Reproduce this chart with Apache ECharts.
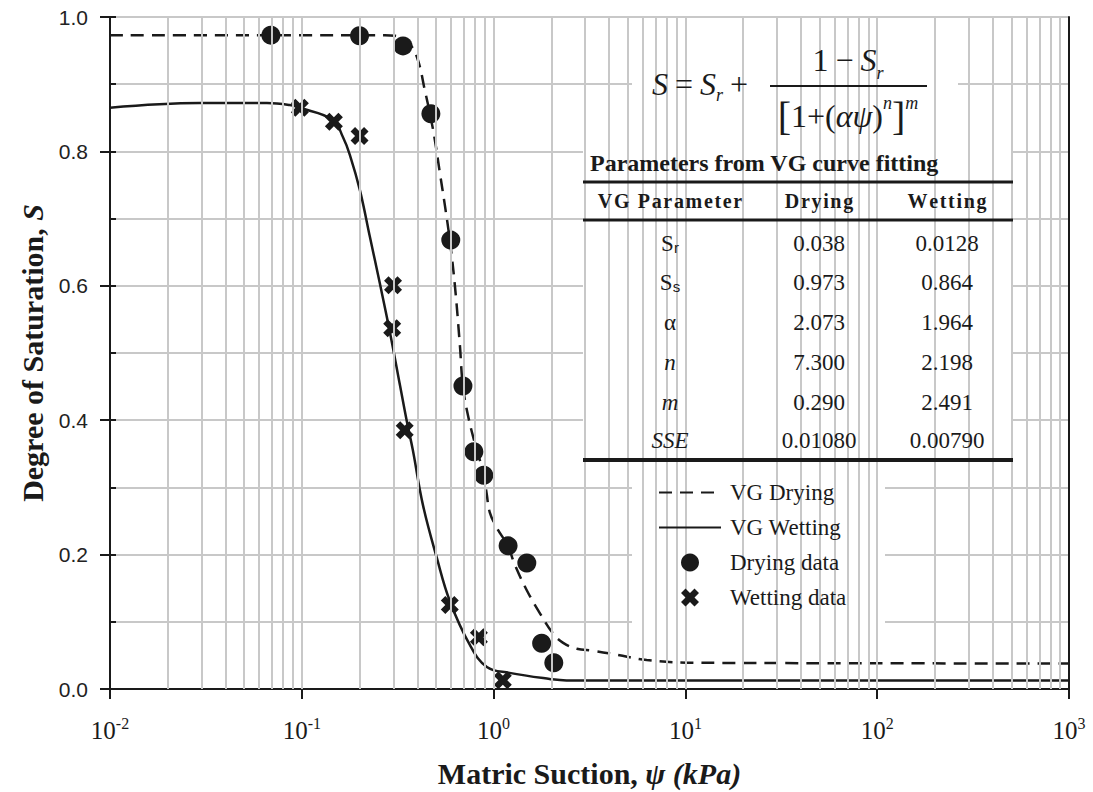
<!DOCTYPE html>
<html>
<head>
<meta charset="utf-8">
<script src="https://cdn.jsdelivr.net/npm/echarts@6/dist/echarts.min.js"></script>
<style>
  html, body { margin: 0; padding: 0; background: #fff; }
  #chart { width: 1093px; height: 792px; }
</style>
</head>
<body>
<div id="chart"></div>
<script>
// measured points
var dryPsi = [0.069, 0.2, 0.337, 0.471, 0.598, 0.692, 0.789, 0.889, 1.19, 1.49, 1.78, 2.06];
var dryS   = [0.973, 0.972, 0.957, 0.856, 0.668, 0.451, 0.353, 0.318, 0.213, 0.1875, 0.068, 0.039];
var wetPsi = [0.0977, 0.147, 0.2, 0.299, 0.296, 0.344, 0.591, 0.838, 1.117];
var wetS   = [0.865, 0.844, 0.823, 0.601, 0.537, 0.385, 0.125, 0.077, 0.013];

// fitted curves
var dryCurvePsi = [0.01, 0.271, 0.306, 0.332, 0.366, 0.403, 0.438, 0.465, 0.494, 0.524, 0.557, 0.591, 0.628, 0.667, 0.691, 0.734, 0.798, 0.847, 0.889, 0.922, 0.955, 1.039, 1.186, 1.29, 1.489, 1.741, 2.035, 2.294, 2.715, 3.288, 4.385, 6.286, 11.87, 1000];
var dryCurveS   = [0.973, 0.973, 0.972, 0.969, 0.960, 0.936, 0.891, 0.857, 0.817, 0.769, 0.720, 0.668, 0.601, 0.512, 0.452, 0.408, 0.366, 0.341, 0.320, 0.289, 0.263, 0.240, 0.213, 0.185, 0.147, 0.113, 0.083, 0.069, 0.060, 0.057, 0.051, 0.043, 0.039, 0.038];
var wetCurvePsi = [0.01, 0.0294, 0.0658, 0.0867, 0.0977, 0.145, 0.164, 0.178, 0.201, 0.226, 0.255, 0.288, 0.325, 0.353, 0.379, 0.428, 0.506, 0.591, 0.752, 0.922, 1.21, 1.96, 2.4, 1000];
var wetCurveS   = [0.865, 0.872, 0.872, 0.869, 0.865, 0.847, 0.821, 0.795, 0.742, 0.674, 0.604, 0.531, 0.452, 0.398, 0.356, 0.274, 0.195, 0.131, 0.0655, 0.0327, 0.024, 0.015, 0.0128, 0.0128];

var decades = [-2, -1, 0, 1, 2];

var paramNames = ['Sr', 'Ss', 'alpha', 'n', 'm', 'SSE'];
var dryParams = ['0.038', '0.973', '2.073', '7.300', '0.290', '0.01080'];
var wetParams = ['0.0128', '0.864', '1.964', '2.198', '2.491', '0.00790'];

function pairs(xs, ys) { return xs.map(function(x, i) { return [x, ys[i]]; }); }

var ink = '#1a1a1a';
var gridGray = '#c8c8c8';
var serif = 'Liberation Serif';
var sans = 'Liberation Sans';

// vertical grid at 1..9 x 10^k
var vLines = [];
decades.forEach(function(e) {
  for (var k = 1; k <= 9; k++) {
    if (e === -2 && k === 1) continue;
    vLines.push({ xAxis: k * Math.pow(10, e) });
  }
});

var crossPath = 'path://M2.5,0 L5,2.5 L7.5,0 L10,2.5 L7.5,5 L10,7.5 L7.5,10 L5,7.5 L2.5,10 L0,7.5 L2.5,5 L0,2.5 Z';

var chart = echarts.init(document.getElementById('chart'), null, { renderer: 'svg' });

function txt(x, y, text, opts) {
  var s = { x: x, y: y, text: text, fill: ink, textAlign: 'center', textVerticalAlign: 'middle',
            fontFamily: serif, fontSize: 23 };
  for (var k in opts) s[k] = opts[k];
  return { type: 'text', z: 11, style: s };
}

var g = [];
// white panels over the grid
g.push({ type: 'rect', z: 5, shape: { x: 632, y: 40, width: 326, height: 103 }, style: { fill: '#fff' } });
g.push({ type: 'rect', z: 5, shape: { x: 583, y: 143, width: 430, height: 320 }, style: { fill: '#fff' } });
g.push({ type: 'rect', z: 5, shape: { x: 632, y: 462, width: 253, height: 166 }, style: { fill: '#fff' } });

// formula
var fRich = {
  i: { fontFamily: serif, fontStyle: 'italic', fontSize: 32, lineHeight: 40 },
  n: { fontFamily: serif, fontSize: 32, lineHeight: 40, padding: [0, 7, 0, 7] },
  n0: { fontFamily: serif, fontSize: 32, lineHeight: 44 },
  b: { fontFamily: serif, fontSize: 40, lineHeight: 44 },
  sub: { fontFamily: serif, fontStyle: 'italic', fontSize: 18, verticalAlign: 'bottom', lineHeight: 18 },
  sup: { fontFamily: serif, fontStyle: 'italic', fontSize: 18, verticalAlign: 'top', lineHeight: 18 }
};
g.push(txt(652, 84, '{i|S}{n|=}{i|S}{sub|r}{n|+}', { textAlign: 'left', rich: fRich }));
g.push(txt(848, 60, '{n0|1}{n|\u2212}{i|S}{sub|r}', { rich: fRich }));
g.push({ type: 'line', z: 11, shape: { x1: 770, y1: 86, x2: 927, y2: 86 }, style: { stroke: ink, lineWidth: 2 } });
g.push(txt(848, 116, '{b|[}{n0|1+(}{i|\u03b1\u03c8}{n0|)}{sup|n}{b|]}{sup|m}', { rich: fRich }));

// table
function spaced(s) { return s.split('').join('\u200a'); }
g.push(txt(590, 163, 'Parameters from VG curve fitting', { textAlign: 'left', fontWeight: 'bold', fontSize: 24 }));
g.push({ type: 'line', z: 11, shape: { x1: 583, y1: 182, x2: 1013, y2: 182 }, style: { stroke: ink, lineWidth: 3 } });
g.push(txt(670, 201, spaced('VG Parameter'), { fontWeight: 'bold', fontSize: 20 }));
g.push(txt(819, 201, spaced('Drying'), { fontWeight: 'bold', fontSize: 20 }));
g.push(txt(947, 201, spaced('Wetting'), { fontWeight: 'bold', fontSize: 20 }));
g.push({ type: 'line', z: 11, shape: { x1: 583, y1: 220, x2: 1013, y2: 220 }, style: { stroke: ink, lineWidth: 3 } });
var rowY = [243, 282, 322, 362, 402, 440];
var nameRich = {
  s: { fontFamily: serif, fontSize: 23 },
  sub: { fontFamily: sans, fontSize: 15, verticalAlign: 'bottom', lineHeight: 16 },
  i: { fontFamily: serif, fontStyle: 'italic', fontSize: 23 }
};
var nameText = {
  Sr: '{s|S}{sub|r}', Ss: '{s|S}{sub|s}', alpha: '{s|\u03b1}', n: '{i|n}', m: '{i|m}', SSE: '{i|SSE}'
};
paramNames.forEach(function(p, i) {
  g.push(txt(670, rowY[i], nameText[p], { rich: nameRich }));
  g.push(txt(819, rowY[i], dryParams[i], {}));
  g.push(txt(947, rowY[i], wetParams[i], {}));
});
g.push({ type: 'line', z: 11, shape: { x1: 583, y1: 460, x2: 1013, y2: 460 }, style: { stroke: ink, lineWidth: 4 } });

var axisLine = { show: true, lineStyle: { color: ink, width: 2 } };
var titleRich = {
  b: { fontFamily: serif, fontWeight: 'bold', fontSize: 30, color: ink },
  bi: { fontFamily: serif, fontWeight: 'bold', fontStyle: 'italic', fontSize: 30, color: ink }
};

chart.setOption({
  animation: false,
  backgroundColor: '#fff',
  grid: { left: 110, right: 24, top: 17, bottom: 103, outerBoundsMode: 'none', containLabel: false },
  legend: {
    orient: 'vertical',
    left: 653, top: 476,
    itemWidth: 62, itemHeight: 18, itemGap: 12,
    z: 10,
    textStyle: { fontFamily: serif, fontSize: 23, color: ink, padding: [0, 0, 0, 4] },
    data: [
      { name: 'VG Drying', itemStyle: { opacity: 0 } },
      { name: 'VG Wetting', itemStyle: { opacity: 0 } },
      { name: 'Drying data', icon: 'circle' },
      { name: 'Wetting data', icon: crossPath }
    ]
  },
  xAxis: [
    {
      type: 'log', logBase: 10, min: 0.01, max: 1000, position: 'bottom',
      axisLine: axisLine,
      axisTick: { show: true, length: 10, lineStyle: { color: ink, width: 2 } },
      splitLine: { show: false },
      axisLabel: {
        margin: 26,
        formatter: function(v) {
          var e = Math.round(Math.log(v) / Math.LN10);
          return '{a|10}{s|' + e + '}';
        },
        rich: {
          a: { fontFamily: serif, fontSize: 25, color: ink, lineHeight: 30 },
          s: { fontFamily: serif, fontSize: 16, color: ink, verticalAlign: 'top', lineHeight: 16 }
        }
      },
      name: '{b|Matric Suction, }{bi|\u03c8 (kPa)}',
      nameLocation: 'middle',
      nameGap: 69,
      nameTextStyle: { rich: titleRich }
    },
    {
      type: 'log', logBase: 10, min: 0.01, max: 1000, position: 'top',
      axisLine: axisLine, axisTick: { show: false }, axisLabel: { show: false }, splitLine: { show: false }
    }
  ],
  yAxis: [
    {
      type: 'value', min: 0, max: 1, interval: 0.2, position: 'left',
      axisLine: axisLine,
      axisTick: { show: true, length: 10, lineStyle: { color: ink, width: 2 } },
      splitLine: { show: false },
      axisLabel: {
        margin: 22, fontFamily: sans, fontSize: 21, color: '#222',
        formatter: function(v) { return v.toFixed(1); }
      },
      name: '{b|Degree of Saturation, }{bi|S}',
      nameLocation: 'middle',
      nameGap: 63,
      nameRotate: 90,
      nameTextStyle: { rich: titleRich }
    },
    {
      type: 'value', min: 0, max: 1, interval: 0.1, position: 'right',
      axisLine: axisLine, axisTick: { show: false }, axisLabel: { show: false },
      splitLine: { show: true, lineStyle: { color: gridGray, width: 2 } }
    },
    {
      type: 'value', min: 0, max: 1, interval: 0.1, position: 'left', offset: 0,
      axisLine: { show: false },
      axisTick: { show: true, inside: true, length: 6, lineStyle: { color: ink, width: 2 } },
      axisLabel: { show: false }, splitLine: { show: false }
    }
  ],
  graphic: g,
  series: [
    {
      name: 'grid', type: 'line', data: [], z: 1, silent: true,
      markLine: {
        silent: true, symbol: ['none', 'none'],
        label: { show: false },
        lineStyle: { color: gridGray, width: 2, type: 'solid' },
        data: vLines
      }
    },
    {
      name: 'VG Drying', type: 'line', z: 3,
      data: pairs(dryCurvePsi, dryCurveS),
      symbol: 'none', smooth: 0.4,
      lineStyle: { color: ink, width: 2.5, type: [13, 8] },
      itemStyle: { color: ink }
    },
    {
      name: 'VG Wetting', type: 'line', z: 3,
      data: pairs(wetCurvePsi, wetCurveS),
      symbol: 'none', smooth: 0.4,
      lineStyle: { color: ink, width: 2.5 },
      itemStyle: { color: ink }
    },
    {
      name: 'Drying data', type: 'scatter', z: 4,
      data: pairs(dryPsi, dryS),
      symbol: 'circle', symbolSize: 19,
      itemStyle: { color: ink, opacity: 1 }
    },
    {
      name: 'Wetting data', type: 'scatter', z: 4,
      data: pairs(wetPsi, wetS),
      symbol: crossPath, symbolSize: 18, symbolKeepAspect: true,
      itemStyle: { color: ink, opacity: 1 }
    }
  ]
});
window.addEventListener('resize', function() { chart.resize(); });
</script>
</body>
</html>
